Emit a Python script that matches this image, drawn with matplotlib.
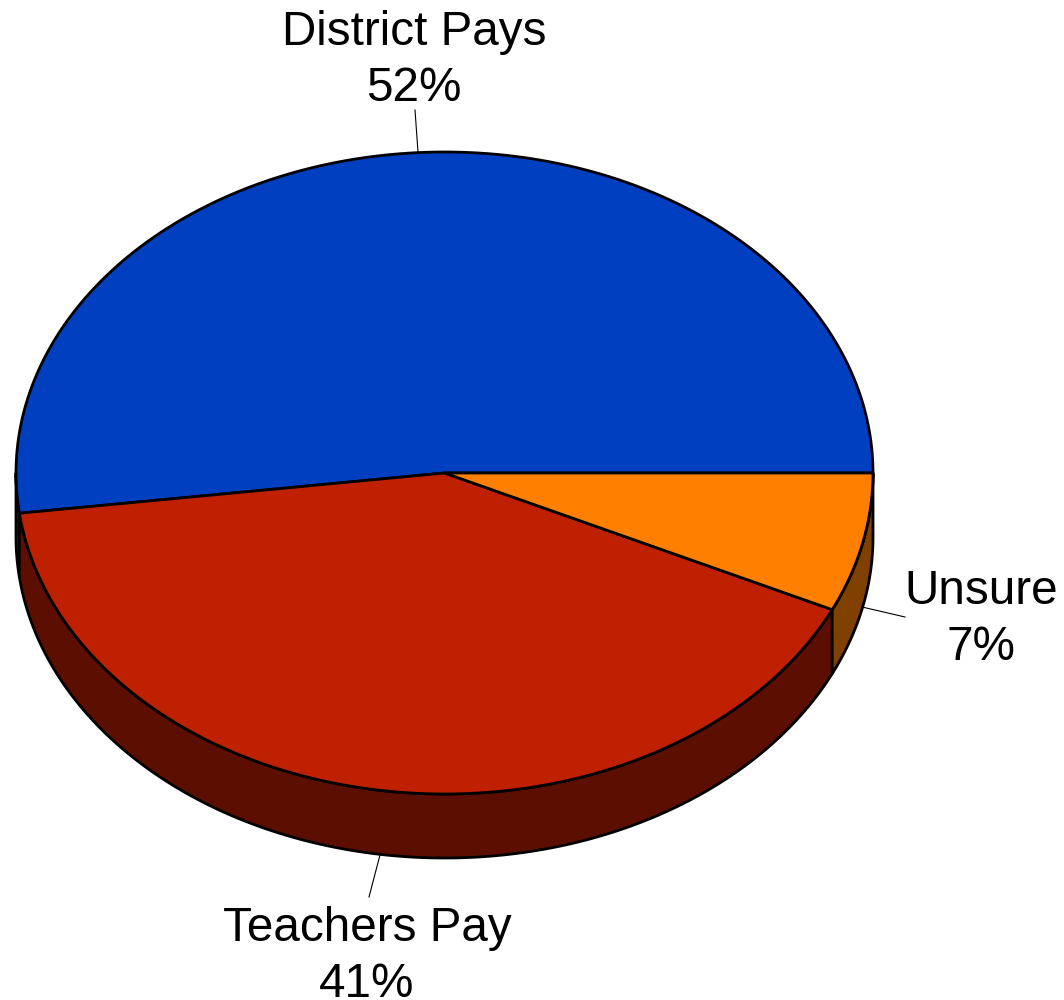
import matplotlib
matplotlib.use('Agg')
import matplotlib.pyplot as plt
import numpy as np
from matplotlib.patches import Polygon

categories = ['District Pays', 'Teachers Pay', 'Unsure']
values = [52, 41, 7]
top_colors = ['#0040C0', '#BF2000', '#FF8000']
side_colors = ['#002060', '#5C0F00', '#7F4000']

# pie geometry in pixels
cx, cy = 444.5, 473
rx, ry = 428.5, 321
depth = 64

plt.rcParams['font.family'] = ['Liberation Sans', 'DejaVu Sans']

fig = plt.figure(figsize=(10.64, 10), dpi=100)
ax = fig.add_axes([0, 0, 1, 1])
ax.set_xlim(0, 1064)
ax.set_ylim(1000, 0)
ax.axis('off')


def rim(a, b, n=200):
    t = np.radians(np.linspace(a, b, n))
    return cx + rx * np.cos(t), cy - ry * np.sin(t)


# slices run counter-clockwise from east
edges = np.concatenate([[0], np.cumsum(values) / np.sum(values) * 360])

# side wall first, only the front half shows
for i in range(len(values)):
    a = max(edges[i], 180)
    b = edges[i + 1]
    if b <= a:
        continue
    x, y = rim(a, b)
    px = np.concatenate([x, x[::-1]])
    py = np.concatenate([y, y[::-1] + depth])
    ax.add_patch(Polygon(np.column_stack([px, py]), closed=True, facecolor=side_colors[i],
                         edgecolor='black', linewidth=2.0, joinstyle='round'))

# top faces
for i in range(len(values)):
    x, y = rim(edges[i], edges[i + 1])
    px = np.concatenate([[cx], x])
    py = np.concatenate([[cy], y])
    ax.add_patch(Polygon(np.column_stack([px, py]), closed=True, facecolor=top_colors[i],
                         edgecolor='black', linewidth=2.0, joinstyle='round'))

# leader lines
ax.plot([415, 418], [110, 152], color='black', lw=0.8)
ax.plot([380, 369], [855, 897], color='black', lw=0.8)
ax.plot([862, 905], [607, 617], color='black', lw=0.8)

# labels
label_pos = [(414, 60.5), (367, 956.5), (981, 619.5)]
for name, val, (lx, ly) in zip(categories, values, label_pos):
    ax.text(lx, ly, f'{name}\n{val}%', ha='center', va='center', fontsize=34.3,
            linespacing=1.32, color='black')

plt.savefig('out.png', dpi=100)
